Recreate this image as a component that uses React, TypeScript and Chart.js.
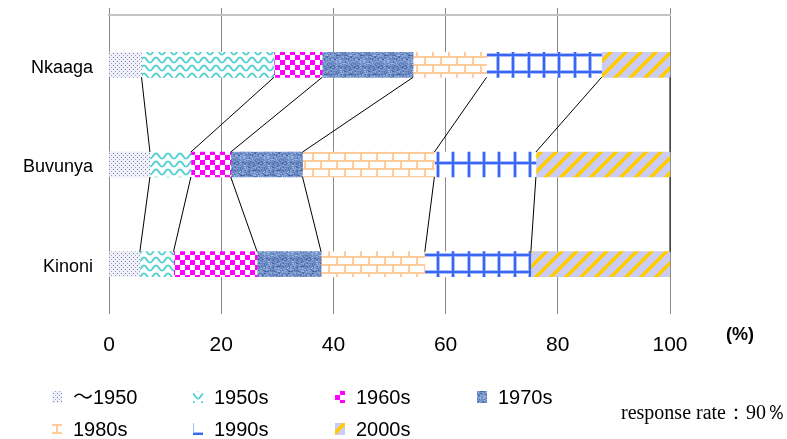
import React, { useEffect, useRef } from 'react';
import { Chart, registerables } from 'chart.js';

Chart.register(...registerables);

const categories = ['Nkaaga', 'Buvunya', 'Kinoni'];
const seriesNames = ['〜1950', '1950s', '1960s', '1970s', '1980s', '1990s', '2000s'];
const before1950 = [5.8, 7.3, 5.5];
const s1950s = [23.6, 7.3, 6.0];
const s1960s = [8.6, 7.1, 14.9];
const s1970s = [16.2, 12.8, 11.4];
const s1980s = [13.1, 23.5, 18.5];
const s1990s = [20.5, 18.1, 18.9];
const s2000s = [12.2, 23.9, 24.8];
const xTickMin = 0;
const xTickMax = 100;
const xTickStep = 20;
const unitLabel = '(%)';
const noteText = 'response rate：90％';

function tile(w: number, h: number, draw: (c: CanvasRenderingContext2D) => void) {
  const c = document.createElement('canvas');
  c.width = w;
  c.height = h;
  const g = c.getContext('2d')!;
  draw(g);
  return c;
}

function hash(x: number, y: number) {
  let n = (x * 374761393 + y * 668265263) | 0;
  n = (n ^ (n >>> 13)) * 1274126177;
  n = n ^ (n >>> 16);
  return ((n >>> 0) % 1000) / 1000;
}

function makeTiles() {
  const dots = tile(4, 4, (g) => {
    g.fillStyle = '#f0f0f8';
    g.fillRect(0, 0, 4, 4);
    g.fillStyle = '#7c7cb4';
    g.fillRect(1, 1, 1, 1);
    g.fillStyle = '#a0a0cc';
    g.fillRect(3, 3, 1, 1);
  });
  const waves = tile(12, 8, (g) => {
    g.fillStyle = '#ffffff';
    g.fillRect(0, 0, 12, 8);
    g.strokeStyle = '#4fcfcf';
    g.lineWidth = 1.8;
    g.beginPath();
    for (let x = -2; x <= 14; x += 0.5) {
      const y = 4 - 2.6 * Math.cos((2 * Math.PI * x) / 12);
      if (x === -2) g.moveTo(x, y);
      else g.lineTo(x, y);
    }
    g.stroke();
  });
  const checker = tile(10, 10, (g) => {
    g.fillStyle = '#ffffff';
    g.fillRect(0, 0, 10, 10);
    g.fillStyle = '#ff00ff';
    g.fillRect(0, 0, 5, 5);
    g.fillRect(5, 5, 5, 5);
  });
  const denim = tile(24, 24, (g) => {
    const dark = [45, 80, 150];
    const light = [180, 205, 245];
    for (let y = 0; y < 24; y++) {
      for (let x = 0; x < 24; x++) {
        const v = 0.45 * hash(x, y) + 0.35 * hash(x >> 1, y + 100) + 0.2 * hash(x >> 2, (y >> 1) + 200);
        const r = Math.round(dark[0] + (light[0] - dark[0]) * v);
        const gg = Math.round(dark[1] + (light[1] - dark[1]) * v);
        const b = Math.round(dark[2] + (light[2] - dark[2]) * v);
        g.fillStyle = `rgb(${r},${gg},${b})`;
        g.fillRect(x, y, 1, 1);
      }
    }
  });
  const brick = tile(16, 16, (g) => {
    g.fillStyle = '#ffffff';
    g.fillRect(0, 0, 16, 16);
    g.fillStyle = '#ffcc99';
    g.fillRect(0, 0, 16, 2);
    g.fillRect(0, 8, 16, 2);
    g.fillRect(0, 0, 2, 8);
    g.fillRect(8, 8, 2, 8);
  });
  const grid = tile(46, 17, (g) => {
    g.fillStyle = '#ffffff';
    g.fillRect(0, 0, 46, 17);
    g.fillStyle = '#a8bcfc';
    [7, 22, 38].forEach((x) => g.fillRect(x - 1, 0, 4, 17));
    g.fillRect(0, 7, 46, 4);
    g.fillStyle = '#3a66f4';
    [7, 22, 38].forEach((x) => g.fillRect(x, 0, 2, 17));
    g.fillRect(0, 8, 46, 2);
  });
  const stripes = tile(15, 15, (g) => {
    for (let y = 0; y < 15; y++) {
      for (let x = 0; x < 15; x++) {
        const t = (x + y) % 15;
        g.fillStyle = t < 5 ? '#ffcc00' : '#ccccf2';
        g.fillRect(x, y, 1, 1);
      }
    }
  });
  return [dots, waves, checker, denim, brick, grid, stripes];
}

const FONT_LABEL = "'Liberation Sans', 'Noto Sans CJK JP', sans-serif";

export default function App() {
  const ref = useRef<HTMLCanvasElement | null>(null);

  useEffect(() => {
    document.body.style.margin = '0';
    const canvas = ref.current!;
    const ctx = canvas.getContext('2d')!;
    const tiles = makeTiles();
    const patterns = tiles.map((t) => ctx.createPattern(t, 'repeat')!);
    // phase offsets of the 1990s grid texture for each bar (texture placement only)
    const gridShift = [
      [30, 12],
      [16, 1],
      [16, 8],
    ];
    const gridPatterns = gridShift.map(([tx, ty]) => {
      const p = ctx.createPattern(tiles[5], 'repeat')!;
      p.setTransform(new DOMMatrix([1, 0, 0, 1, tx, ty]));
      return p;
    });
    const seriesValues = [before1950, s1950s, s1960s, s1970s, s1980s, s1990s, s2000s];

    const connectors = {
      id: 'connectors',
      afterDatasetsDraw(chart: any) {
        const c = chart.ctx;
        c.save();
        c.strokeStyle = '#000000';
        c.lineWidth = 1;
        for (let i = 0; i < seriesValues.length; i++) {
          const meta = chart.getDatasetMeta(i);
          for (let j = 0; j < categories.length - 1; j++) {
            const a = meta.data[j].getProps(['x', 'y', 'height'], true);
            const b = meta.data[j + 1].getProps(['x', 'y', 'height'], true);
            c.beginPath();
            c.moveTo(a.x, a.y + a.height / 2);
            c.lineTo(b.x, b.y - b.height / 2);
            c.stroke();
          }
        }
        c.restore();
      },
    };

    const legendPlugin = {
      id: 'customLegend',
      afterDraw(chart: any) {
        const c = chart.ctx;
        c.save();
        const colX = [52, 193, 335, 477];
        const rowY = [397, 429];
        seriesNames.forEach((name, i) => {
          const col = i < 4 ? i : i - 4;
          const row = i < 4 ? 0 : 1;
          const x = colX[col];
          const y = rowY[row];
          c.fillStyle = patterns[i];
          c.fillRect(x, y - 6, 10, 12);
          c.fillStyle = '#000000';
          c.font = `20px ${FONT_LABEL}`;
          c.textAlign = 'left';
          c.textBaseline = 'middle';
          c.fillText(name, x + 21, y + 1);
        });
        c.font = `bold 18px ${FONT_LABEL}`;
        c.textAlign = 'center';
        c.textBaseline = 'middle';
        c.fillText(unitLabel, 740, 335);
        c.font = "20px 'Liberation Serif', 'DejaVu Serif', serif";
        c.textAlign = 'right';
        c.textBaseline = 'alphabetic';
        c.fillText(noteText, 786, 419);
        c.restore();
      },
    };

    const chart = new Chart(canvas, {
      type: 'bar',
      data: {
        labels: categories,
        datasets: seriesValues.map((vals, i) => ({
          label: seriesNames[i],
          data: vals,
          backgroundColor: i === 5 ? gridPatterns : patterns[i],
          borderWidth: 0,
          barThickness: 25,
          xAxisID: 'x',
          yAxisID: 'y',
        })),
      },
      options: {
        indexAxis: 'y',
        animation: false,
        responsive: false,
        maintainAspectRatio: false,
        layout: { padding: { top: 8, right: 117, left: 0, bottom: 0 } },
        plugins: { legend: { display: false }, tooltip: { enabled: false } },
        scales: {
          x: {
            type: 'linear',
            position: 'top',
            stacked: true,
            min: xTickMin,
            max: xTickMax,
            ticks: { display: false, stepSize: xTickStep },
            grid: { color: '#8a8a8a', lineWidth: 1, tickLength: 7, drawTicks: true },
            border: { display: true, color: '#c4c4c4', width: 2 },
            afterFit: (s: any) => {
              s.height = 7;
            },
          },
          x2: {
            type: 'linear',
            position: 'bottom',
            min: xTickMin,
            max: xTickMax,
            ticks: { stepSize: xTickStep, padding: 19, color: '#000000', font: { family: FONT_LABEL, size: 21 } },
            grid: { display: false, drawTicks: false },
            border: { display: false },
            afterFit: (s: any) => {
              s.height = 125;
            },
          },
          y: {
            type: 'category',
            stacked: true,
            grid: { display: false, drawTicks: false },
            border: { display: false },
            ticks: { padding: 16, labelOffset: 3, color: '#000000', font: { family: FONT_LABEL, size: 18 } },
            afterFit: (s: any) => {
              s.width = 109;
              s.paddingTop = 0;
              s.paddingBottom = 0;
            },
          },
        },
      } as any,
      plugins: [connectors, legendPlugin],
    });
    return () => chart.destroy();
  }, []);

  return <canvas ref={ref} width={787} height={439} style={{ display: 'block', width: 787, height: 439 }} />;
}
